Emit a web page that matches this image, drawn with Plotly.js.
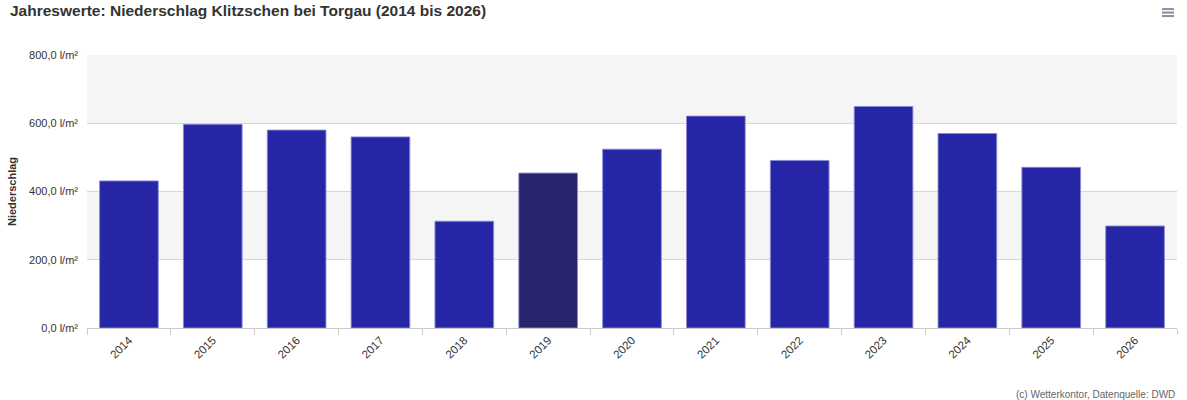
<!DOCTYPE html>
<html>
<head>
<meta charset="utf-8">
<script src="https://cdn.plot.ly/plotly-3.0.1.min.js"></script>
<style>html,body{margin:0;padding:0;background:#fff;}#chart{width:1187px;height:400px;}</style>
</head>
<body>
<div id="chart"></div>
<script>
const years = ["2014","2015","2016","2017","2018","2019","2020","2021","2022","2023","2024","2025","2026"];
const precipitation = [431, 597, 580, 560, 313, 454, 524, 621, 491, 649, 570, 471, 299];
const highlightYear = "2019";
const yTicks = [0, 200, 400, 600, 800];
const unit = " l/m²";
const bandRanges = [[200, 400], [600, 800]];

const normalColor = "rgb(38,37,166)";
const highlightColor = "rgb(38,37,110)";

const trace = {
  type: "bar",
  x: years,
  y: precipitation,
  marker: {
    color: years.map(y => y === highlightYear ? highlightColor : normalColor),
    line: {color: "rgba(140,140,215,0.9)", width: 1}
  },
  hoverinfo: "x+y"
};

const shapes = bandRanges.map(r => ({
  type: "rect", xref: "paper", yref: "y", x0: 0, x1: 1, y0: r[0], y1: r[1],
  fillcolor: "#f5f5f5", line: {width: 0}, layer: "below"
}));
// menu icon
[9, 12.5, 16].forEach(py => {
  shapes.push({
    type: "line", xref: "paper", yref: "paper",
    x0: (1162 - 87) / 1090, x1: (1174 - 87) / 1090,
    y0: (328.5 - py) / 273.5, y1: (328.5 - py) / 273.5,
    line: {color: "#8090a0", width: 2}
  });
});

const layout = {
  width: 1187, height: 400,
  margin: {l: 87, r: 10, t: 55, b: 71.5, pad: 0},
  paper_bgcolor: "#fff",
  plot_bgcolor: "rgba(0,0,0,0)",
  showlegend: false,
  bargap: 0.3,
  font: {family: "Liberation Sans, Arial, sans-serif", color: "#333", size: 11},
  title: {
    text: "<b>Jahreswerte: Niederschlag Klitzschen bei Torgau (2014 bis 2026)</b>",
    x: 0, xref: "container", xanchor: "left",
    y: 1, yref: "container", yanchor: "top",
    pad: {l: 10, t: 5},
    font: {size: 15.5, color: "#333", family: "Liberation Sans, Arial, sans-serif"}
  },
  xaxis: {
    type: "category",
    tickangle: -45,
    ticks: "outside",
    tickson: "boundaries",
    ticklen: 6,
    tickcolor: "#cccccc",
    showline: true,
    linecolor: "#cccccc",
    showgrid: false,
    tickfont: {size: 11.5, color: "#333"},
    fixedrange: true
  },
  yaxis: {
    range: [0, 800],
    tickvals: yTicks,
    ticktext: yTicks.map(v => v.toFixed(1).replace(".", ",") + unit),
    showgrid: true,
    gridcolor: "#d8d8d8",
    gridwidth: 1,
    zeroline: false,
    ticks: "",
    ticklabelstandoff: 8,
    tickfont: {size: 11, color: "#333"},
    title: {text: "<b>Niederschlag</b>", font: {size: 11, color: "#333"}, standoff: 10},
    fixedrange: true
  },
  shapes: shapes,
  annotations: [{
    text: "(c) Wetterkontor, Datenquelle: DWD",
    xref: "paper", yref: "paper",
    x: 1, y: (328.5 - 395) / 273.5,
    xanchor: "right", yanchor: "middle",
    showarrow: false,
    font: {size: 10, color: "#666"}
  }]
};

Plotly.newPlot("chart", [trace], layout, {displayModeBar: false});
</script>
</body>
</html>
